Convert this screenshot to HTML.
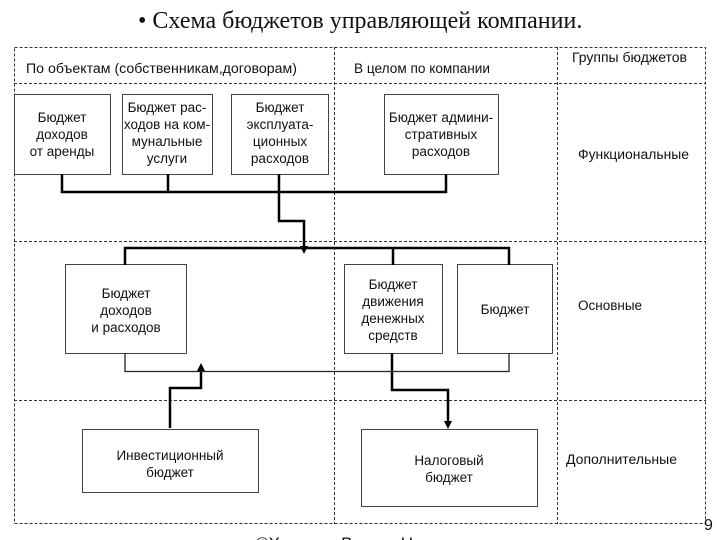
<!DOCTYPE html>
<html><head><meta charset="utf-8"><style>
body{margin:0;width:720px;height:540px;background:#fff;overflow:hidden}
svg{display:block}
text{font-family:"Liberation Sans",sans-serif;font-size:13.5px;fill:#111}
</style></head><body>
<svg width="720" height="540" viewBox="0 0 720 540">
<text x="138" y="28" style="font-family:'Liberation Serif',serif;font-size:24px">• Схема бюджетов управляющей компании.</text>
<g stroke="#333" stroke-width="1" stroke-dasharray="3,2" fill="none">
<rect x="14.5" y="47.5" width="691" height="476"/>
<line x1="14" y1="83.5" x2="706" y2="83.5"/>
<line x1="14" y1="241.5" x2="706" y2="241.5"/>
<line x1="14" y1="400.5" x2="706" y2="400.5"/>
<line x1="334.5" y1="47" x2="334.5" y2="524"/>
<line x1="557.5" y1="47" x2="557.5" y2="524"/>
</g>
<text x="26" y="73" textLength="271" lengthAdjust="spacingAndGlyphs">По объектам (собственникам,договорам)</text>
<text x="354" y="73" textLength="136" lengthAdjust="spacingAndGlyphs">В целом по компании</text>
<text x="572" y="62" textLength="115" lengthAdjust="spacingAndGlyphs">Группы бюджетов</text>
<text x="578" y="159" textLength="111" lengthAdjust="spacingAndGlyphs">Функциональные</text>
<text x="578" y="310">Основные</text>
<text x="566" y="464" textLength="111" lengthAdjust="spacingAndGlyphs">Дополнительные</text>
<g stroke="#444" fill="#fff" stroke-width="1">
<rect x="14.5" y="94.5" width="96" height="80"/>
<rect x="122.5" y="94.5" width="90" height="80"/>
<rect x="231.5" y="94.5" width="97" height="80"/>
<rect x="384.5" y="94.5" width="114" height="80"/>
<rect x="65.5" y="264.5" width="121" height="89"/>
<rect x="344.5" y="264.5" width="98" height="89"/>
<rect x="457.5" y="264.5" width="95" height="89"/>
<rect x="82.5" y="429.5" width="176" height="63"/>
<rect x="361.5" y="429.5" width="176" height="77"/>
</g>
<g text-anchor="middle">
<text x="62" y="122">Бюджет</text><text x="62" y="139">доходов</text><text x="62" y="156">от аренды</text>
<text x="167" y="112">Бюджет рас-</text><text x="167" y="129">ходов на ком-</text><text x="167" y="146">мунальные</text><text x="167" y="163">услуги</text>
<text x="280" y="112">Бюджет</text><text x="280" y="129">эксплуата-</text><text x="280" y="146">ционных</text><text x="280" y="163">расходов</text>
<text x="441" y="122">Бюджет админи-</text><text x="441" y="139">стративных</text><text x="441" y="156">расходов</text>
<text x="126" y="298">Бюджет</text><text x="126" y="315">доходов</text><text x="126" y="332">и расходов</text>
<text x="393" y="289">Бюджет</text><text x="393" y="306">движения</text><text x="393" y="323">денежных</text><text x="393" y="340">средств</text>
<text x="505" y="314">Бюджет</text>
<text x="170" y="460">Инвестиционный</text><text x="170" y="477">бюджет</text>
<text x="449" y="465">Налоговый</text><text x="449" y="482">бюджет</text>
</g>
<g stroke="#000" stroke-width="2.5" fill="none">
<polyline points="62,174 62,192 446,192 446,174"/>
<line x1="168" y1="174" x2="168" y2="192"/>
<polyline points="279,174 279,221 304,221 304,248"/>
<polyline points="125,265 125,248 509,248 509,265"/>
<line x1="393" y1="248" x2="393" y2="265"/>
<polyline points="170,428 170,388 201,388 201,370"/>
<polyline points="392,353 392,390 448,390 448,422"/>
</g>
<polyline points="125,353 125,371.5 509,371.5 509,353" stroke="#222" stroke-width="1.3" fill="none"/>
<polygon points="300,246 308,246 304,254" fill="#000"/>
<polygon points="197,371 205,371 201,363" fill="#000"/>
<polygon points="444,421 452,421 448,429" fill="#000"/>
<text x="704" y="530" style="font-size:16px">9</text>
<text x="256" y="549" style="font-size:17px">©Хлыстун Виктор Николаевич</text>
</svg>
</body></html>
